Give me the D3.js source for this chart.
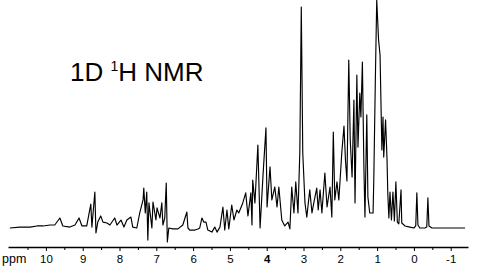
<!DOCTYPE html>
<html>
<head>
<meta charset="utf-8">
<script src="https://cdn.jsdelivr.net/npm/d3@7"></script>
<style>
  body { margin: 0; background: #fff; }
  svg { display: block; font-family: "Liberation Sans", Arial, sans-serif; }
</style>
</head>
<body>
<div id="nmr"></div>
<script>
var width = 485
var height = 276

// chemical shift (ppm) from left to right
var shift = [10.98, 10.71, 10.43, 10.24, 10.08, 9.89, 9.76, 9.62, 9.54, 9.35, 9.21, 9.10, 9.02, 8.89,
  8.78, 8.75, 8.67, 8.64, 8.59, 8.51, 8.45, 8.34, 8.26, 8.13, 8.07, 7.96, 7.88, 7.80, 7.69, 7.64,
  7.53, 7.45, 7.36, 7.34, 7.30, 7.26, 7.23, 7.20, 7.12, 7.09, 7.01, 6.98, 6.90, 6.85, 6.82, 6.77,
  6.73, 6.70, 6.66, 6.55, 6.41, 6.28, 6.17, 6.14, 6.09, 5.95, 5.87, 5.82, 5.76, 5.71, 5.65, 5.60,
  5.49, 5.41, 5.35, 5.27, 5.19, 5.14, 5.08, 5.03, 4.95, 4.89, 4.81, 4.76, 4.65, 4.57, 4.51, 4.43,
  4.40, 4.38, 4.32, 4.24, 4.18, 4.10, 4.02, 3.99, 3.91, 3.86, 3.78, 3.72, 3.67, 3.59, 3.51, 3.42,
  3.37, 3.32, 3.26, 3.21, 3.15, 3.10, 3.06, 3.02, 2.96, 2.91, 2.83, 2.77, 2.72, 2.64, 2.60, 2.55,
  2.50, 2.42, 2.36, 2.28, 2.23, 2.19, 2.15, 2.09, 2.04, 1.96, 1.90, 1.86, 1.82, 1.77, 1.73, 1.68,
  1.63, 1.60, 1.55, 1.52, 1.47, 1.44, 1.40, 1.36, 1.33, 1.28, 1.25, 1.20, 1.11, 1.09, 1.05, 1.01,
  0.96, 0.92, 0.87, 0.84, 0.82, 0.77, 0.73, 0.71, 0.68, 0.65, 0.61, 0.57, 0.53, 0.49, 0.45, 0.41,
  0.35, 0.33, 0.24, 0.11, 0.00, -0.05, -0.08, -0.11, -0.16, -0.30, -0.35, -0.38, -0.41, -0.49,
  -0.71, -0.98, -1.39]

// intensity, % of the tallest peak
var intensity = [0, 0.4, 0.4, 0.9, 0.9, 1.3, 1.3, 4.4, 0.9, 0.4, 1.3, 4.4, 0.9, 0.9,
  10.5, 0.4, 15.8, -2.2, 2.6, 5.3, 2.6, 2.2, 1.3, 4.4, 1.3, 3.5, 0.4, 3.5, 4.8, 0.4,
  0, 6.6, 12.3, 17.5, 6.6, 15.8, -5.3, 11, 0, 11.4, 3.5, 8.8, 4.4, 11, 1.3, 4.4,
  19.7, -6.1, 0, -0.4, -0.4, 1.3, 7.0, 0, -0.9, -0.9, -0.4, 0, 4.4, 2.6, 2.6, -0.9,
  -1.8, 0.4, -1.8, 0.4, 9.2, -0.9, 7.9, -0.4, 10.1, 3.5, 7.9, 6.6, 11, 15.4, 5.3, 15.4,
  1.3, 21, 11, 36.4, 0, 23.2, 43.9, 9.2, 26.8, 12.3, 18, 9.2, 18, 3.5, 0.9, 2.6,
  -0.4, 18, 6.6, 20.2, 6.6, 33.3, 96.9, 32.9, 11, 4.8, 16.7, 6.6, 11, 17.5, 7.9, 16.7,
  6.6, 24.1, 9.2, 18, 4.8, 42.1, 12.3, 20.2, 12.3, 32.9, 44.7, 29.8, 20.6, 73.7, 38.6, 22.4,
  56.1, 11, 67.1, 35.5, 59.2, 48.7, 72.8, 27.6, 4.8, 49.6, 13.6, 6.6, 6.6, 21, 62.7, 100,
  82.5, 75.9, 34.2, 48.7, 31.1, 47.4, 29.8, 15.4, 4.4, 15.8, 3.5, 15.8, 3.1, 20.2, 2.6, 1.8,
  16.7, 2.2, 0.9, 0.4, 0, 0.9, 15.4, 1.3, 0, 0, 0.4, 13.2, 0.9, 0,
  0, 0, 0]

var majorTicks = [10, 9, 8, 7, 6, 5, 4, 3, 2, 1, 0, -1]
var minorTicks = [10.5, 9.5, 8.5, 7.5, 6.5, 5.5, 4.5, 3.5, 2.5, 1.5, 0.5, -0.5]

var spectrum = shift.map((s, i) => ({ ppm: s, value: intensity[i] }))

var svg = d3.select('#nmr').append('svg')
    .attr('width', width)
    .attr('height', height)

// ppm axis runs right to left
var xScale = d3.scaleLinear()
    .domain([11.03, -1.47])
    .range([8, 468])

var yScale = d3.scaleLinear()
    .domain([0, 100])
    .range([228, 0])

var line = d3.line()
    .x(d => xScale(d.ppm))
    .y(d => yScale(d.value))

svg.append('path')
    .datum(spectrum)
    .attr('d', line)
    .attr('fill', 'none')
    .attr('stroke', '#000')
    .attr('stroke-width', 1.15)
    .attr('stroke-linejoin', 'round')

// minor ticks, no labels
svg.append('g')
    .attr('transform', 'translate(0,247)')
    .call(d3.axisBottom(xScale).tickValues(minorTicks).tickSize(3).tickFormat(''))
    .call(g => g.select('.domain').remove())

var axis = svg.append('g')
    .attr('transform', 'translate(0,247)')
    .call(d3.axisBottom(xScale)
        .tickValues(majorTicks)
        .tickSize(4)
        .tickSizeOuter(0)
        .tickPadding(4)
        .tickFormat(d => String(d)))

axis.select('.domain').attr('stroke-width', 1.6)
axis.selectAll('text')
    .attr('font-family', '"Liberation Sans", Arial, sans-serif')
    .attr('font-size', 11.5)
    .attr('fill', '#000')
    .attr('font-weight', d => d === 4 ? 'bold' : null)

svg.append('text')
    .attr('x', 2)
    .attr('y', 263)
    .attr('font-size', 12.5)
    .text('ppm')

var title = svg.append('text')
    .attr('x', 70)
    .attr('y', 81)
    .attr('font-size', 26)
title.append('tspan').text('1D ')
title.append('tspan').attr('font-size', 14).attr('dy', -10).text('1')
title.append('tspan').attr('dy', 10).text('H NMR')
</script>
</body>
</html>
